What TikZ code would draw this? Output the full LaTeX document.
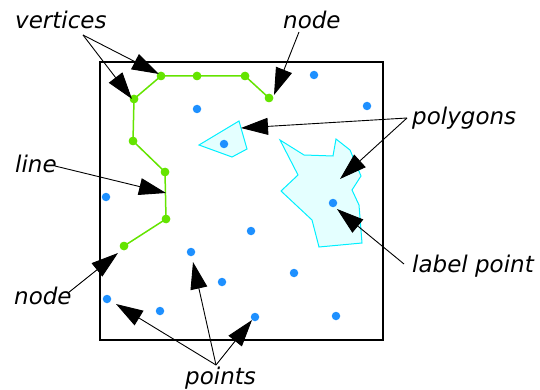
\documentclass[tikz,border=0pt]{standalone}
\usepackage{fontspec}
\newfontfamily\labfont{DejaVu Sans}
\usetikzlibrary{arrows.meta}
\definecolor{lime}{RGB}{100,228,0}
\definecolor{ptblue}{RGB}{30,144,255}
\definecolor{polyline}{RGB}{0,240,255}
\definecolor{polyfill}{RGB}{228,255,255}
\tikzset{
  lab/.style={font=\labfont\itshape\fontsize{23}{27}\selectfont, inner sep=0pt, anchor=base west},
  gdot/.style={circle, fill=lime, inner sep=0pt, minimum size=8.5pt},
  bdot/.style={circle, fill=ptblue, inner sep=0pt, minimum size=8.5pt},
  gline/.style={draw=lime, line width=1.5pt},
  poly/.style={draw=polyline, fill=polyfill, line width=1pt, line join=miter},
  callout/.style={draw=black, line width=0.9pt, -{Triangle[length=27pt,width=17pt]}},
  frame/.style={draw=black, line width=2pt}
}
\begin{document}
\begin{tikzpicture}[x=1pt,y=-1pt]
\useasboundingbox (0,0) rectangle (540,390);
% frame
\draw[frame] (100,62) rectangle (383,340);
% polygons
\path[poly] (199,145) -- (239,121) -- (247,149) -- (232,157) -- cycle;
\path[poly] (280,140) -- (304,155) -- (333,156) -- (336,139) -- (350,150) -- (361,176) -- (352,190) -- (359,205) -- (362,243) -- (319,247) -- (312,220) -- (281,191) -- (298,175) -- cycle;
% line vertices
\node[gdot] (g1) at (124,246) {};
\node[gdot] (g2) at (166,219) {};
\node[gdot] (g3) at (165,172) {};
\node[gdot] (g4) at (133,141) {};
\node[gdot] (g5) at (134,99) {};
\node[gdot] (g6) at (161,76) {};
\node[gdot] (g7) at (197,76) {};
\node[gdot] (g8) at (245,76) {};
\node[gdot] (g9) at (269,98) {};
\draw[gline] (g1.center) -- (g2.center) -- (g3.center) -- (g4.center) -- (g5.center) -- (g6.center) -- (g7.center) -- (g8.center) -- (g9.center);
\foreach \n in {g1,g2,g3,g4,g5,g6,g7,g8,g9} \node[gdot] at (\n) {};
% points
\node[bdot] (p1) at (197,109) {};
\node[bdot] (p2) at (224,144) {};
\node[bdot] (p3) at (106,197) {};
\node[bdot] (p4) at (314,75) {};
\node[bdot] (p5) at (367,106) {};
\node[bdot] (p6) at (333,203) {};
\node[bdot] (p7) at (251,231) {};
\node[bdot] (p8) at (107,299) {};
\node[bdot] (p9) at (160,311) {};
\node[bdot] (p10) at (191,252) {};
\node[bdot] (p11) at (222,282) {};
\node[bdot] (p12) at (255,317) {};
\node[bdot] (p13) at (294,273) {};
\node[bdot] (p14) at (336,316) {};
% labels
\node[lab] (tvert) at (15,29) {vertices};
\node[lab] (tnode1) at (283,29) {node};
\node[lab] (tpoly) at (412,125) {polygons};
\node[lab] (tline) at (15,172) {line};
\node[lab] (tlabel) at (412,272) {label point};
\node[lab] (tnode2) at (14,304) {node};
\node[lab] (tpts) at (185,384) {points};
% callout origins
\coordinate (overt) at (83,35);
\coordinate (onode1) at (299,32);
\coordinate (opoly) at (407,118);
\coordinate (oline) at (55,166);
\coordinate (olabel) at (404,264);
\coordinate (onode2) at (68,293);
\coordinate (opts) at (216,365);
% callout tips
\coordinate (tv1) at (159,74);
\coordinate (tv2) at (132,99);
\coordinate (tn1) at (274,95);
\coordinate (tp1) at (241,128);
\coordinate (tp2) at (340,179);
\coordinate (tl) at (166,193);
\coordinate (tlp) at (337,209);
\coordinate (tn2) at (118,253);
\coordinate (tq1) at (116,304);
\coordinate (tq2) at (193,262);
\coordinate (tq3) at (252,320);
% callouts
\draw[callout] (overt) -- (tv1);
\draw[callout] (overt) -- (tv2);
\draw[callout] (onode1) -- (tn1);
\draw[callout] (opoly) -- (tp1);
\draw[callout] (opoly) -- (tp2);
\draw[callout] (oline) -- (tl);
\draw[callout] (olabel) -- (tlp);
\draw[callout] (onode2) -- (tn2);
\draw[callout] (opts) -- (tq1);
\draw[callout] (opts) -- (tq2);
\draw[callout] (opts) -- (tq3);
\end{tikzpicture}
\end{document}
